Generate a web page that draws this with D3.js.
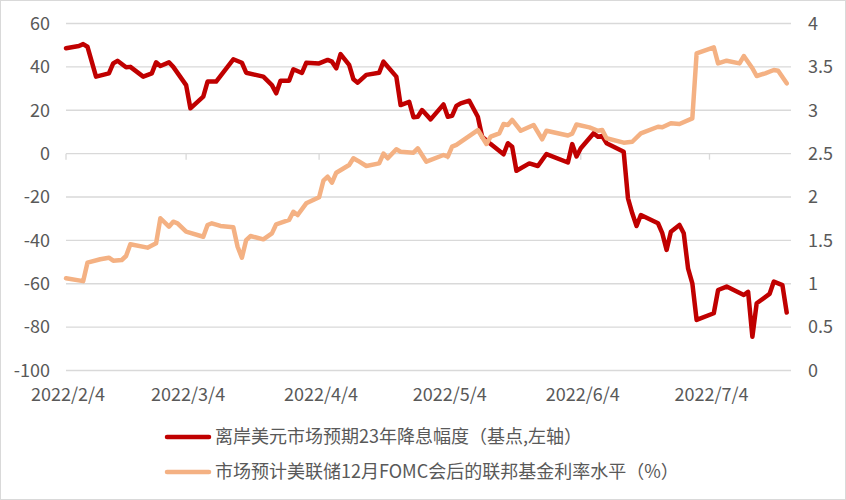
<!DOCTYPE html>
<html>
<head>
<meta charset="utf-8">
<script src="https://cdn.jsdelivr.net/npm/d3@7"></script>
<style>
  html, body { margin: 0; padding: 0; background: #fff; }
  svg { display: block; }
  text { font-family: "Noto Sans CJK SC", "Noto Sans", sans-serif; fill: #595959; }
</style>
</head>
<body>
<svg id="chart" width="846" height="500"></svg>
<script>
// ---- data ----
const redDates = ["2022-02-04","2022-02-07","2022-02-08","2022-02-09","2022-02-11","2022-02-14","2022-02-15","2022-02-16","2022-02-18","2022-02-19","2022-02-22","2022-02-24","2022-02-25","2022-02-26","2022-02-28","2022-03-01","2022-03-04","2022-03-05","2022-03-08","2022-03-09","2022-03-11","2022-03-15","2022-03-17","2022-03-18","2022-03-22","2022-03-24","2022-03-25","2022-03-26","2022-03-28","2022-03-29","2022-03-31","2022-04-01","2022-04-04","2022-04-06","2022-04-07","2022-04-08","2022-04-09","2022-04-11","2022-04-12","2022-04-13","2022-04-15","2022-04-18","2022-04-19","2022-04-22","2022-04-23","2022-04-25","2022-04-26","2022-04-27","2022-04-28","2022-04-30","2022-05-03","2022-05-04","2022-05-05","2022-05-06","2022-05-07","2022-05-09","2022-05-11","2022-05-12","2022-05-14","2022-05-17","2022-05-18","2022-05-19","2022-05-20","2022-05-23","2022-05-25","2022-05-27","2022-06-01","2022-06-02","2022-06-03","2022-06-04","2022-06-07","2022-06-08","2022-06-09","2022-06-10","2022-06-14","2022-06-15","2022-06-16","2022-06-17","2022-06-18","2022-06-22","2022-06-23","2022-06-24","2022-06-25","2022-06-27","2022-06-28","2022-06-29","2022-06-30","2022-07-01","2022-07-05","2022-07-06","2022-07-08","2022-07-12","2022-07-13","2022-07-14","2022-07-15","2022-07-18","2022-07-19","2022-07-21","2022-07-22"];
const redValues = [48.6,49.6,50.5,49.3,35.5,37,41.6,42.8,39.8,40,35.5,37,42.1,40.4,42.1,40,31.6,20.9,26.3,33.2,33.2,43.5,41.9,37.3,35.5,31.6,27.8,33.6,33.6,38.9,37.2,41.9,41.6,43.2,42.4,39.3,45.9,40.9,34.3,32.7,36.3,37.3,42.4,35.5,22.4,23.9,16.8,17,20.1,15.8,22.7,17,17.4,22,23.2,24.4,17,7.8,4.4,-0.3,4.8,3.2,-7.9,-4.5,-5.7,-0.2,-4.1,4.4,-1.3,2.5,9.4,7.8,8.1,4.8,0.9,-20.6,-27.5,-33.4,-28.3,-32.1,-36.7,-44.4,-36,-32.9,-36.7,-52.9,-59.8,-76.7,-73.6,-62.9,-61.3,-65.2,-63.7,-84.4,-69,-64.7,-59,-60.6,-73.3];

const orangeDates = ["2022-02-04","2022-02-08","2022-02-09","2022-02-12","2022-02-14","2022-02-15","2022-02-17","2022-02-18","2022-02-19","2022-02-23","2022-02-25","2022-02-26","2022-02-28","2022-03-01","2022-03-02","2022-03-04","2022-03-08","2022-03-09","2022-03-10","2022-03-12","2022-03-15","2022-03-16","2022-03-17","2022-03-18","2022-03-19","2022-03-22","2022-03-24","2022-03-25","2022-03-28","2022-03-29","2022-03-30","2022-04-01","2022-04-04","2022-04-05","2022-04-06","2022-04-07","2022-04-08","2022-04-11","2022-04-12","2022-04-13","2022-04-15","2022-04-18","2022-04-19","2022-04-20","2022-04-22","2022-04-23","2022-04-26","2022-04-27","2022-04-29","2022-05-03","2022-05-04","2022-05-05","2022-05-06","2022-05-11","2022-05-13","2022-05-14","2022-05-16","2022-05-17","2022-05-18","2022-05-19","2022-05-21","2022-05-24","2022-05-26","2022-05-27","2022-06-01","2022-06-02","2022-06-03","2022-06-06","2022-06-08","2022-06-09","2022-06-10","2022-06-14","2022-06-16","2022-06-18","2022-06-22","2022-06-23","2022-06-25","2022-06-27","2022-06-30","2022-07-01","2022-07-05","2022-07-06","2022-07-08","2022-07-11","2022-07-12","2022-07-14","2022-07-15","2022-07-17","2022-07-19","2022-07-20","2022-07-22"];
const orangeValues = [1.063,1.03,1.243,1.282,1.30,1.266,1.274,1.32,1.455,1.416,1.466,1.755,1.658,1.715,1.697,1.60,1.542,1.677,1.697,1.666,1.651,1.427,1.30,1.504,1.55,1.512,1.581,1.685,1.735,1.83,1.792,1.927,1.997,2.188,2.234,2.165,2.28,2.369,2.446,2.419,2.357,2.388,2.50,2.446,2.55,2.522,2.511,2.561,2.407,2.484,2.465,2.58,2.60,2.772,2.611,2.695,2.734,2.842,2.83,2.888,2.764,2.83,2.665,2.764,2.709,2.73,2.836,2.803,2.764,2.772,2.677,2.626,2.637,2.734,2.81,2.803,2.85,2.842,2.907,3.656,3.726,3.54,3.571,3.54,3.625,3.484,3.395,3.426,3.464,3.456,3.311];

const leftTicks = [60, 40, 20, 0, -20, -40, -60, -80, -100];
const rightTicks = [4, 3.5, 3, 2.5, 2, 1.5, 1, 0.5, 0];
const xTickDates = ["2022-02-04","2022-03-04","2022-04-04","2022-05-04","2022-06-04","2022-07-04"];
const xDomain = ["2022-02-04","2022-07-23"];
const seriesNames = ["离岸美元市场预期23年降息幅度（基点,左轴）", "市场预计美联储12月FOMC会后的联邦基金利率水平（%）"];

// ---- drawing ----
const parse = d3.utcParse("%Y-%m-%d");
const fmt = d3.utcFormat("%Y/%-m/%-d");
const svg = d3.select("#chart");

const plotL = 66, plotR = 791, plotT = 23.5, plotB = 370.5;
const x = d3.scaleUtc().domain(xDomain.map(parse)).range([plotL, plotR]);
const yL = d3.scaleLinear().domain([-100, 60]).range([plotB, plotT]);
const yR = d3.scaleLinear().domain([0, 4]).range([plotB, plotT]);

// border
svg.append("rect").attr("x", 0.5).attr("y", 0.5).attr("width", 845).attr("height", 499)
  .attr("fill", "#fff").attr("stroke", "#D9D9D9").attr("stroke-width", 1);

// gridlines
svg.append("g").selectAll("line").data(leftTicks).join("line")
  .attr("x1", plotL).attr("x2", plotR)
  .attr("y1", d => yL(d)).attr("y2", d => yL(d))
  .attr("stroke", "#D9D9D9").attr("stroke-width", 1.3);

// x axis tick marks on zero line
svg.append("g").selectAll("line").data(xTickDates.map(parse)).join("line")
  .attr("x1", d => x(d)).attr("x2", d => x(d))
  .attr("y1", yL(0)).attr("y2", yL(0) + 6)
  .attr("stroke", "#D9D9D9").attr("stroke-width", 1.3);

// left labels
svg.append("g").selectAll("text").data(leftTicks).join("text")
  .attr("x", 50).attr("y", d => yL(d)).attr("dy", "0.35em")
  .attr("text-anchor", "end").attr("font-size", 18).text(d => d);

// right labels
svg.append("g").selectAll("text").data(rightTicks).join("text")
  .attr("x", 808).attr("y", d => yR(d)).attr("dy", "0.35em")
  .attr("text-anchor", "start").attr("font-size", 18).text(d => d);

// x labels
svg.append("g").selectAll("text").data(xTickDates.map(parse)).join("text")
  .attr("x", d => x(d) + 2).attr("y", 395).attr("dy", "0.35em")
  .attr("text-anchor", "middle").attr("font-size", 18).text(d => fmt(d));

// lines
const redData = redDates.map((d, i) => [parse(d), redValues[i]]);
const orangeData = orangeDates.map((d, i) => [parse(d), orangeValues[i]]);

svg.append("path").datum(redData)
  .attr("fill", "none").attr("stroke", "#C00000").attr("stroke-width", 4.5)
  .attr("stroke-linejoin", "round").attr("stroke-linecap", "round")
  .attr("d", d3.line().x(d => x(d[0])).y(d => yL(d[1])));

svg.append("path").datum(orangeData)
  .attr("fill", "none").attr("stroke", "#F4B183").attr("stroke-width", 4.5)
  .attr("stroke-linejoin", "round").attr("stroke-linecap", "round")
  .attr("d", d3.line().x(d => x(d[0])).y(d => yR(d[1])));

// legend
const legColors = ["#C00000", "#F4B183"];
const legY = [437, 472];
const leg = svg.append("g");
seriesNames.forEach((name, i) => {
  leg.append("line").attr("x1", 167).attr("x2", 209).attr("y1", legY[i]).attr("y2", legY[i])
    .attr("stroke", legColors[i]).attr("stroke-width", 4.5).attr("stroke-linecap", "round");
  leg.append("text").attr("x", 215).attr("y", legY[i]).attr("dy", "0.35em")
    .attr("font-size", 18).text(name);
});
</script>
</body>
</html>
